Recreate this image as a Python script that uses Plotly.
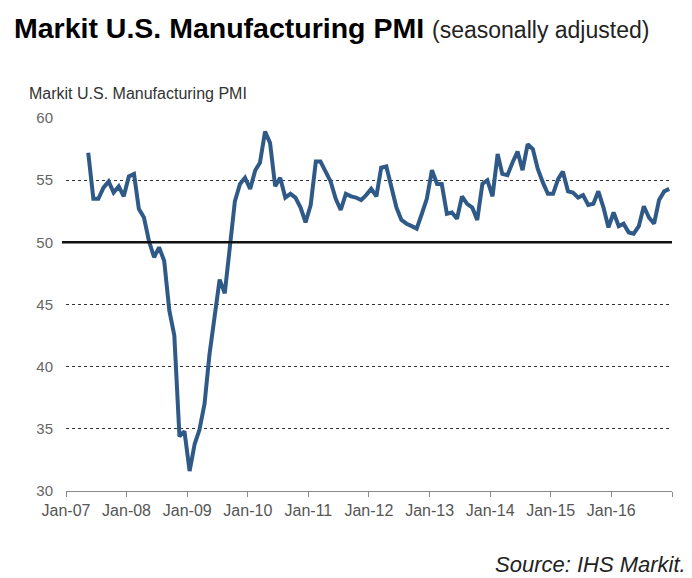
import pandas as pd
import plotly.graph_objects as go

# Monthly Markit U.S. Manufacturing PMI, May 2007 - Dec 2016
start_month = "2007-05"
pmi_2007 = [57.2, 53.5, 53.5, 54.4, 54.9, 54.0, 54.5, 53.7]
pmi_2008 = [55.3, 55.5, 52.7, 52.0, 50.1, 48.8, 49.6, 48.5, 44.5, 42.5, 34.4, 34.8]
pmi_2009 = [31.6, 33.8, 34.9, 37.0, 41.0, 44.0, 47.0, 45.9, 49.5, 53.3, 54.7, 55.2]
pmi_2010 = [54.3, 55.8, 56.4, 58.9, 58.0, 54.5, 55.2, 53.6, 53.9, 53.6, 52.8, 51.6]
pmi_2011 = [53.0, 56.5, 56.5, 55.7, 54.9, 53.5, 52.6, 53.9, 53.7, 53.6, 53.4, 53.8]
pmi_2012 = [54.3, 53.7, 56.0, 56.1, 54.4, 52.8, 51.8, 51.5, 51.3, 51.1, 52.3, 53.5]
pmi_2013 = [55.8, 54.7, 54.7, 52.3, 52.4, 51.9, 53.7, 53.1, 52.8, 51.8, 54.7, 55.0]
pmi_2014 = [53.7, 57.1, 55.5, 55.4, 56.4, 57.3, 55.8, 57.9, 57.5, 55.9, 54.8, 53.9]
pmi_2015 = [53.9, 55.1, 55.7, 54.1, 54.0, 53.6, 53.8, 53.0, 53.1, 54.1, 52.8, 51.2]
pmi_2016 = [52.4, 51.3, 51.5, 50.8, 50.7, 51.3, 52.9, 52.0, 51.5, 53.4, 54.1, 54.3]

tick_years = list(range(2007, 2018))
tick_labels = ["Jan-07", "Jan-08", "Jan-09", "Jan-10", "Jan-11", "Jan-12",
               "Jan-13", "Jan-14", "Jan-15", "Jan-16", ""]

values = (pmi_2007 + pmi_2008 + pmi_2009 + pmi_2010 + pmi_2011 + pmi_2012
          + pmi_2013 + pmi_2014 + pmi_2015 + pmi_2016)
dates = pd.date_range(start=start_month + "-01", periods=len(values), freq="MS") + pd.Timedelta(days=14)
tick_vals = [f"{y}-01-01" for y in tick_years]

# page body has an 8px default margin; lay out in page pixels and compensate
OFF = 8
PW, PH = 692, 578
W, H = PW - OFF, PH - OFF
L, R, T, B = 66 - OFF, 20, 118 - OFF, 87
pw, ph = W - L - R, H - T - B

def px_x(px):
    return (px - OFF - L) / pw

def px_y(py):
    return (H - B - (py - OFF)) / ph

FONT = "Liberation Sans, Arial, sans-serif"

fig = go.Figure()
fig.add_trace(go.Scatter(
    x=dates, y=values, mode="lines",
    line=dict(color="#2F5A88", width=4),
    hoverinfo="skip", showlegend=False,
))

fig.update_layout(
    width=W, height=H,
    margin=dict(l=L, r=R, t=T, b=B, pad=0),
    paper_bgcolor="white", plot_bgcolor="white",
    font=dict(family=FONT, color="#555555"),
    xaxis=dict(
        type="date",
        range=["2007-01-01", "2017-01-01"],
        tickvals=tick_vals, ticktext=tick_labels,
        showgrid=False, zeroline=False,
        showline=True, linecolor="#8a8a8a", linewidth=1,
        ticks="outside", ticklen=5, tickcolor="#8a8a8a",
        tickfont=dict(size=16, color="#555555", family=FONT),
    ),
    yaxis=dict(
        range=[30, 60], dtick=5, tick0=30,
        showgrid=True, gridcolor="#333333", gridwidth=1, griddash="dot",
        zeroline=False, showline=False, ticks="",
        ticklabelstandoff=12,
        tickfont=dict(size=15, color="#666666", family=FONT),
    ),
    shapes=[
        dict(type="line", xref="paper", yref="y", x0=px_x(62), x1=1, y0=50, y1=50,
             line=dict(color="#111111", width=2.5), layer="above"),
    ],
    annotations=[
        dict(xref="paper", yref="paper", x=px_x(12), y=px_y(28), xanchor="left", yanchor="middle",
             showarrow=False,
             text="<b>Markit U.S. Manufacturing PMI</b> <span style='font-size:23px;color:#222'>(seasonally adjusted)</span>",
             font=dict(size=28.5, color="#000000", family=FONT)),
        dict(xref="paper", yref="paper", x=px_x(27), y=px_y(94), xanchor="left", yanchor="middle",
             showarrow=False, text="Markit U.S. Manufacturing PMI",
             font=dict(size=16, color="#333333", family=FONT)),
        dict(xref="paper", yref="paper", x=px_x(688), y=px_y(564), xanchor="right", yanchor="middle",
             showarrow=False, text="<i>Source: IHS Markit.</i>",
             font=dict(size=22, color="#222222", family=FONT)),
    ],
)

fig.write_html("out.html")
